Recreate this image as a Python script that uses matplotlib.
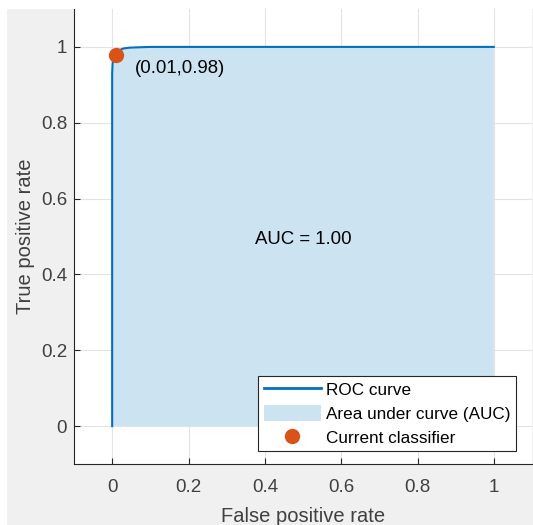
import matplotlib
matplotlib.use("Agg")
import matplotlib.pyplot as plt
from matplotlib.patches import Rectangle, Patch
from matplotlib.lines import Line2D

plt.rcParams['font.family'] = ['Liberation Sans', 'DejaVu Sans']

# ROC data
fpr = [0.0, 0.0, 0.0, 0.001, 0.003, 0.006, 0.01, 0.015, 0.02, 0.03, 0.045, 0.07, 0.1, 0.3, 0.6, 1.0]
tpr = [0.0, 0.5, 0.93, 0.955, 0.967, 0.975, 0.98, 0.987, 0.992, 0.996, 0.998, 0.999, 1.0, 1.0, 1.0, 1.0]
current_fpr = 0.01
current_tpr = 0.98
auc_value = 1.00
xticks = [0, 0.2, 0.4, 0.6, 0.8, 1]
yticks = [0, 0.2, 0.4, 0.6, 0.8, 1]
xtick_labels = ['0', '0.2', '0.4', '0.6', '0.8', '1']
ytick_labels = ['0', '0.2', '0.4', '0.6', '0.8', '1']

W, H = 533, 525
fig = plt.figure(figsize=(W / 100, H / 100), dpi=100, facecolor='white')
fig.patches.append(Rectangle((7 / W, -0.01), 1, (H - 9) / H + 0.01, transform=fig.transFigure,
                             facecolor='#f0f0f0', edgecolor='none', zorder=-10))

ax = fig.add_axes([74 / W, (H - 464) / H, (532 - 74) / W, (464 - 9) / H])
ax.set_zorder(1)
ax.set_facecolor('white')

roc_color = '#0072BD'
fill_color = '#cce3f2'
ax.fill_between(fpr, tpr, 0, facecolor=fill_color, edgecolor='none', zorder=2)
ax.plot(fpr, tpr, color=roc_color, lw=1.5, zorder=3)
ax.plot([current_fpr], [current_tpr], 'o', color='#D95319', ms=10, zorder=4)

ax.text(current_fpr + 0.05, current_tpr - 0.037, f'({current_fpr:.2f},{current_tpr:.2f})',
        fontsize=13.4, color='#000000', ha='left', va='center', zorder=5)
ax.text(0.502, 0.493, f'AUC = {auc_value:.2f}', fontsize=13.4, color='#000000',
        ha='center', va='center', zorder=5)

ax.set_xlim(-0.1, 1.1)
ax.set_ylim(-0.1, 1.1)
ax.set_xticks(xticks)
ax.set_xticklabels(xtick_labels)
ax.set_yticks(yticks)
ax.set_yticklabels(ytick_labels)

ax.grid(True, color='#e3e3e3', lw=0.8, zorder=0)
ax.set_axisbelow(True)
for s in ['top', 'right']:
    ax.spines[s].set_visible(False)
for s in ['left', 'bottom']:
    ax.spines[s].set_color('#262626')
    ax.spines[s].set_linewidth(0.8)
ax.tick_params(axis='both', direction='in', length=4, width=0.8, color='#262626',
               labelcolor='#404040', labelsize=13.5)
ax.tick_params(axis='x', pad=10.5)
ax.tick_params(axis='y', pad=5)

ax.set_xlabel('False positive rate', fontsize=14.5, color='#404040', labelpad=8)
ax.set_ylabel('True positive rate', fontsize=14.5, color='#404040', labelpad=4)

handles = [Line2D([0], [0], color=roc_color, lw=2),
           Patch(facecolor=fill_color, edgecolor='none'),
           Line2D([0], [0], marker='o', color='#D95319', ls='none', ms=10)]
labels = ['ROC curve', 'Area under curve (AUC)', 'Current classifier']
leg = ax.legend(handles, labels, loc='lower right', bbox_to_anchor=(1 - 16 / 458, 13 / 455),
                fontsize=12.3, frameon=True, fancybox=False, framealpha=1,
                edgecolor='#262626', handlelength=3.35, handleheight=1.0, handletextpad=0.3,
                labelspacing=0.42, borderpad=0.32, borderaxespad=0)
leg.get_frame().set_linewidth(0.8)

fig.savefig('out.png', dpi=100, facecolor=fig.get_facecolor())
